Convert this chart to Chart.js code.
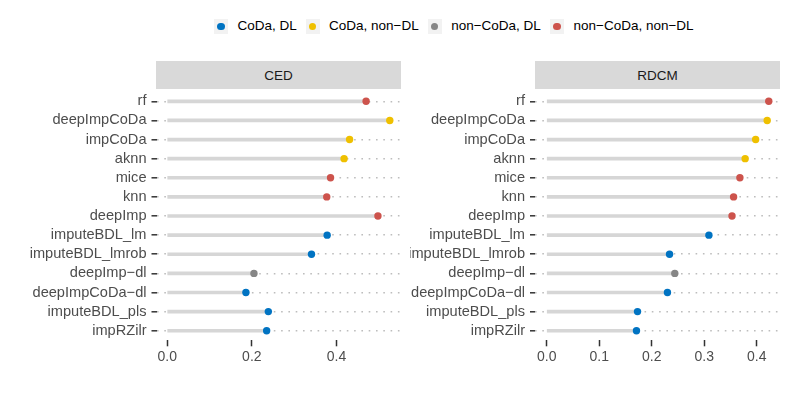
<!DOCTYPE html>
<html>
<head>
<meta charset="utf-8">
<script src="https://cdn.jsdelivr.net/npm/chart.js@4"></script>
<style>
  body { margin: 0; background: #fff; font-family: "Liberation Sans", Arial, sans-serif; }
  #wrap { position: relative; width: 789px; height: 395px; overflow: hidden; }
  canvas { position: absolute; }
  .strip { position: absolute; background: #D9D9D9; color: #1A1A1A; font-size: 13.5px;
           display: flex; align-items: center; justify-content: center; }
  .key { position: absolute; width: 14px; height: 15px; background: #F2F2F2; }
  .key span { position: absolute; left: 3.3px; top: 3.8px; width: 7.4px; height: 7.4px; border-radius: 50%; }
  .lab { position: absolute; font-size: 13.5px; color: #000; line-height: 16px; white-space: nowrap; }
</style>
</head>
<body>
<div id="wrap">
  <div id="legend"></div>
  <div class="strip" style="left:156px;top:61px;width:245px;height:28px;">CED</div>
  <div class="strip" style="left:535px;top:61px;width:245px;height:28px;">RDCM</div>
  <canvas id="ced" width="410" height="302" style="left:0;top:78px;"></canvas>
  <canvas id="rdcm" width="379" height="302" style="left:410px;top:78px;"></canvas>
</div>
<script>
const methods = ['rf', 'deepImpCoDa', 'impCoDa', 'aknn', 'mice', 'knn', 'deepImp',
  'imputeBDL_lm', 'imputeBDL_lmrob', 'deepImp\u2212dl', 'deepImpCoDa\u2212dl', 'imputeBDL_pls', 'impRZilr'];
// 0 = CoDa, DL; 1 = CoDa, non-DL; 2 = non-CoDa, DL; 3 = non-CoDa, non-DL
const methodGroup = [3, 1, 1, 1, 3, 3, 3, 0, 0, 2, 0, 0, 0];
const groupNames = ['CoDa, DL', 'CoDa, non\u2212DL', 'non\u2212CoDa, DL', 'non\u2212CoDa, non\u2212DL'];
const groupColors = ['#0073C2', '#EFC000', '#868686', '#CD534C'];

const cedValues = [0.470, 0.526, 0.431, 0.418, 0.386, 0.377, 0.498, 0.378, 0.341, 0.205, 0.186, 0.239, 0.235];
const rdcmValues = [0.423, 0.420, 0.398, 0.378, 0.368, 0.356, 0.353, 0.309, 0.234, 0.244, 0.230, 0.173, 0.171];

const cedTicks = { min: -0.0253, max: 0.5525, step: 0.2 };
const rdcmTicks = { min: -0.0223, max: 0.4444, step: 0.1 };

// legend
const legendX = [214, 305.5, 427.7, 550];
const legend = document.getElementById('legend');
groupNames.forEach((name, i) => {
  const key = document.createElement('div');
  key.className = 'key';
  key.style.left = legendX[i] + 'px';
  key.style.top = '19px';
  key.innerHTML = '<span style="background:' + groupColors[i] + '"></span>';
  legend.appendChild(key);
  const lab = document.createElement('div');
  lab.className = 'lab';
  lab.style.left = (legendX[i] + 23.5) + 'px';
  lab.style.top = '18px';
  lab.textContent = name;
  legend.appendChild(lab);
});

const family = '"Liberation Sans", Arial, sans-serif';

function panel(id, values, ax, yWidth) {
  const ctx = document.getElementById(id).getContext('2d');
  return new Chart(ctx, {
    type: 'bar',
    data: {
      labels: methods,
      datasets: [{
        type: 'line',
        indexAxis: 'y',
        data: values,
        showLine: false,
        pointRadius: 3.7,
        pointHoverRadius: 3.7,
        pointBorderWidth: 0,
        pointBackgroundColor: methodGroup.map(g => groupColors[g]),
        order: 0
      }, {
        data: values.map(v => [0, v]),
        backgroundColor: '#D6D6D6',
        barThickness: 3,
        order: 1
      }]
    },
    options: {
      indexAxis: 'y',
      responsive: false,
      animation: false,
      layout: { padding: { top: 11.4, right: 9, bottom: 0, left: 0 } },
      plugins: { legend: { display: false }, tooltip: { enabled: false } },
      scales: {
        x: {
          type: 'linear',
          min: ax.min,
          max: ax.max,
          afterFit: s => { s.height = 39.7; },
          ticks: {
            stepSize: ax.step,
            includeBounds: false,
            color: '#4D4D4D',
            font: { family: family, size: 14 },
            padding: 2,
            callback: v => v.toFixed(1)
          },
          grid: { drawOnChartArea: false, tickLength: 6, tickWidth: 1.5, tickColor: '#333333' },
          border: { display: false }
        },
        y: {
          afterFit: s => { s.width = yWidth; },
          ticks: { color: '#4D4D4D', font: { family: family, size: 14.6 }, padding: 5, autoSkip: false },
          grid: {
            offset: false,
            color: '#BDBDBD',
            lineWidth: 1.6,
            tickLength: 5,
            tickWidth: 1.5,
            tickColor: '#333333',
            tickBorderDash: []
          },
          border: { display: false, dash: [1.6, 5.7] }
        }
      }
    }
  });
}

panel('ced', cedValues, cedTicks, 156.5);
panel('rdcm', rdcmValues, rdcmTicks, 125);
</script>
</body>
</html>
